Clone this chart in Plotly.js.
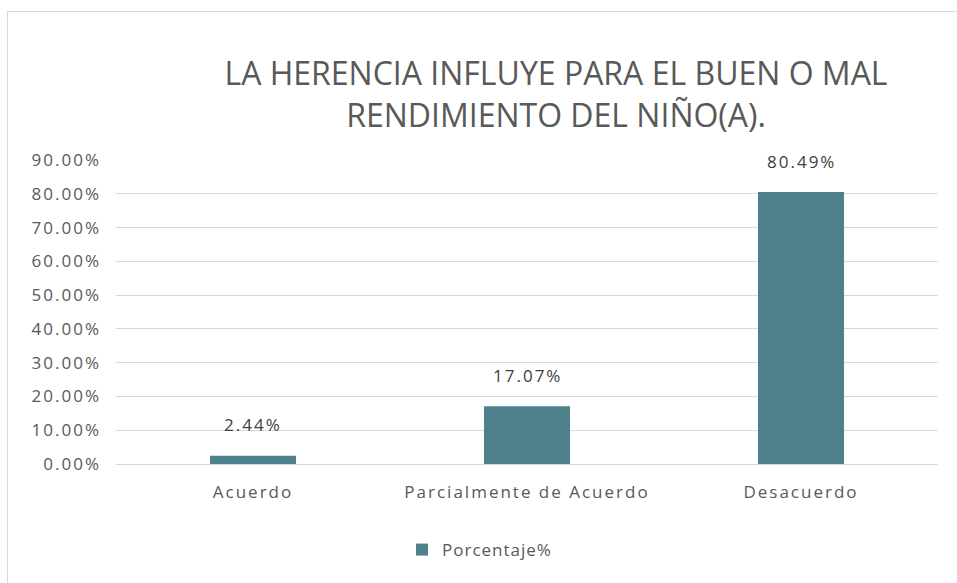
<!DOCTYPE html>
<html>
<head>
<meta charset="utf-8">
<script src="https://cdn.plot.ly/plotly-3.0.1.min.js"></script>
<style>
  html, body { margin: 0; padding: 0; background: #ffffff; }
  #frame { position: absolute; left: 7px; top: 11px; width: 950px; height: 572px;
           border-top: 1px solid #d9d9d9; border-left: 1px solid #d9d9d9; box-sizing: border-box; }
  #chart { position: absolute; left: 0; top: 0; width: 957px; height: 583px; }
  .xtick text, .ytick text, .annotation-text { letter-spacing: 2px; }
  .legendtext { letter-spacing: 1px; }
</style>
</head>
<body>
<div id="frame"></div>
<div id="chart"></div>
<script>
const categories = ["Acuerdo", "Parcialmente de Acuerdo", "Desacuerdo"];
const values = [0.0244, 0.1707, 0.8049];
const valueLabels = ["2.44%", "17.07%", "80.49%"];
const yTickValues = [0, 0.1, 0.2, 0.3, 0.4, 0.5, 0.6, 0.7, 0.8, 0.9];
const yTickLabels = ["0.00%", "10.00%", "20.00%", "30.00%", "40.00%", "50.00%", "60.00%", "70.00%", "80.00%", "90.00%"];
const seriesName = "Porcentaje%";
const chartTitle = "LA HERENCIA INFLUYE PARA EL BUEN O MAL<br>RENDIMIENTO DEL NIÑO(A).";

const FONT = "Open Sans, Noto Sans, sans-serif";
const TXT = "#595959";

const trace = {
  type: "bar",
  x: categories,
  y: values,
  name: seriesName,
  marker: { color: "#4f818c" },
  hoverinfo: "none",
  showlegend: true
};

const annotations = categories.map((c, i) => ({
  x: c, y: values[i], xref: "x", yref: "y",
  text: valueLabels[i], showarrow: false,
  yanchor: "middle", yshift: 31,
  font: { family: FONT, size: 17, color: "#404040" }
}));

const layout = {
  width: 957, height: 583,
  paper_bgcolor: "rgba(0,0,0,0)",
  plot_bgcolor: "rgba(0,0,0,0)",
  margin: { l: 116, r: 19, t: 160, b: 119 },
  title: {
    text: chartTitle,
    font: { family: FONT, size: 32, color: TXT },
    x: 556 / 957, xanchor: "center", xref: "container",
    y: 1 - 85 / 583, yanchor: "middle", yref: "container"
  },
  bargap: 0.686,
  xaxis: {
    type: "category",
    showgrid: false, zeroline: false, showline: false,
    ticks: "", ticklabelstandoff: 16,
    tickfont: { family: FONT, size: 17, color: TXT }
  },
  yaxis: {
    range: [0, 0.9],
    tickvals: yTickValues, ticktext: yTickLabels,
    showgrid: true, gridcolor: "#d9d9d9", gridwidth: 1,
    zeroline: true, zerolinecolor: "#d9d9d9", zerolinewidth: 1,
    showline: false, ticks: "", ticklabelstandoff: 14,
    tickfont: { family: FONT, size: 17, color: TXT }
  },
  legend: {
    orientation: "h",
    x: (402 - 116) / 822, xanchor: "left",
    y: -0.283, yanchor: "middle",
    font: { family: FONT, size: 17, color: TXT }
  },
  annotations: annotations,
  hovermode: false
};

Plotly.newPlot("chart", [trace], layout, { displayModeBar: false, staticPlot: true });
</script>
</body>
</html>
